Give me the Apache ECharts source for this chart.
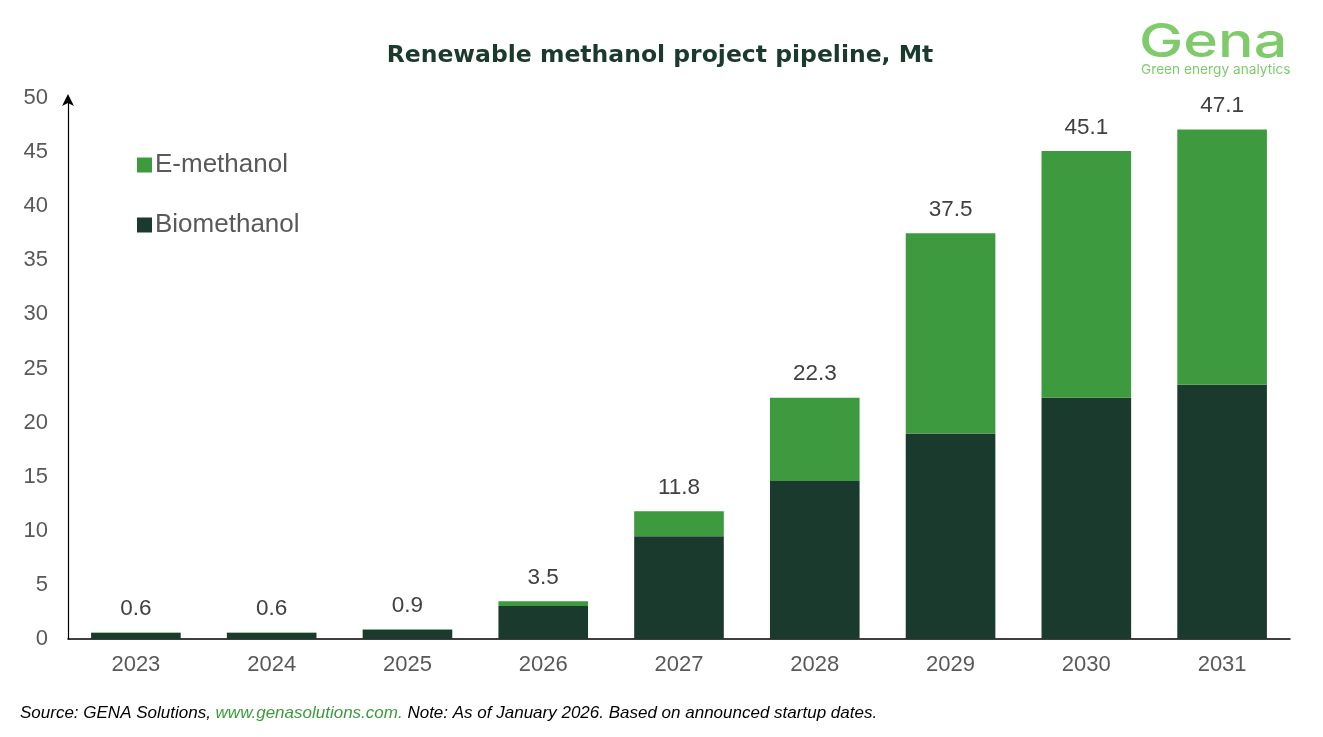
<!DOCTYPE html>
<html><head><meta charset="utf-8">
<script src="https://cdn.jsdelivr.net/npm/echarts@6/dist/echarts.min.js"></script>
<style>html,body{margin:0;padding:0;background:#fff}#c{width:1323px;height:737px}</style>
</head><body><div id="c"></div>
<script>
const years = ['2023','2024','2025','2026','2027','2028','2029','2030','2031'];
const biomethanol = [0.55, 0.55, 0.85, 3.05, 9.5, 14.6, 19.0, 22.3, 23.5];
const eMethanol = [0.05, 0.05, 0.05, 0.45, 2.3, 7.7, 18.5, 22.8, 23.6];
const totals = ['0.6','0.6','0.9','3.5','11.8','22.3','37.5','45.1','47.1'];
const yTicks = [0,5,10,15,20,25,30,35,40,45,50];

const FONT = '"Liberation Sans", Arial, sans-serif';
const chart = echarts.init(document.getElementById('c'), null, {renderer:'canvas'});
chart.setOption({
  animation:false,
  backgroundColor:'#fff',
  title:{text:'Renewable methanol project pipeline, Mt', left:655, top:39, textAlign:'center',
    textStyle:{fontFamily:'"DejaVu Sans", sans-serif', fontSize:23.5, fontWeight:'bold', color:'#1b3a2e'}},
  legend:{show:true, orient:'vertical', left:132, top:147, itemGap:34, itemWidth:15, itemHeight:15,
    icon:'rect', textStyle:{fontFamily:FONT, fontSize:26, color:'#595959', padding:[0,0,0,-2]},
    data:['E-methanol','Biomethanol']},
  grid:{left:68, right:33, top:98, bottom:98, containLabel:false},
  xAxis:{type:'category', data:years, axisTick:{show:false},
    axisLine:{lineStyle:{color:'#000', width:1.5}},
    axisLabel:{fontFamily:FONT, fontSize:22, color:'#595959', margin:15}},
  yAxis:{type:'value', min:0, max:50, interval:5, splitLine:{show:false},
    axisTick:{show:false},
    axisLine:{show:true, symbol:['none','arrow'], symbolSize:[9,12], symbolOffset:[0,4], lineStyle:{color:'#000', width:1.2}},
    axisLabel:{fontFamily:FONT, fontSize:22, color:'#595959', margin:20,
      formatter:v=> yTicks.includes(v)? String(v):''}},
  series:[
    {name:'Biomethanol', type:'bar', stack:'t', data:biomethanol, barWidth:'66%',
      itemStyle:{color:'#1a3a2e'}},
    {name:'E-methanol', type:'bar', stack:'t', data:eMethanol, barWidth:'66%',
      itemStyle:{color:'#3d9a3e'},
      label:{show:true, position:'top', distance:12, fontFamily:FONT, fontSize:22.5, color:'#404040',
        formatter:p=>totals[p.dataIndex]}}
  ],
  graphic:[
    {type:'text', x:1139, y:19, scaleX:1.26, style:{text:'Gena', font:'500 47px "Inter", "Open Sans", sans-serif', fill:'#7fcb6c'}},
    {type:'text', left:1141, top:63, style:{text:'Green energy analytics', font:'13.7px "Inter", "Open Sans", sans-serif', fill:'#7fcb6c'}},
    {type:'text', left:20, top:705, style:{rich:{
        a:{fontFamily:FONT, fontStyle:'italic', fontSize:17, fill:'#000'},
        g:{fontFamily:FONT, fontStyle:'italic', fontSize:17, fill:'#3c9a3c'}},
      text:'{a|Source: GENA Solutions, }{g|www.genasolutions.com.}{a| Note: As of January 2026. Based on announced startup dates.}'}}
  ]
});
</script></body></html>
